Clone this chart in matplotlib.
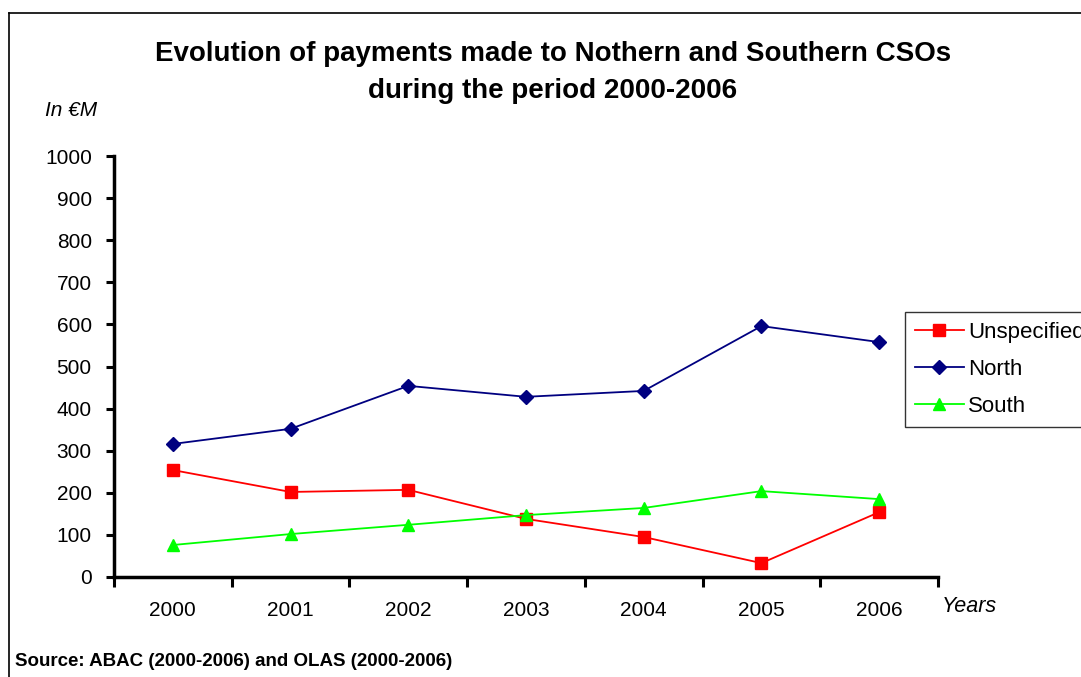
import matplotlib
matplotlib.use("Agg")
import matplotlib.pyplot as plt
from matplotlib.lines import Line2D

plt.rcParams['font.family'] = ['Liberation Sans', 'DejaVu Sans']

years = ['2000', '2001', '2002', '2003', '2004', '2005', '2006']
unspecified = [254, 202, 207, 138, 95, 33, 154]
north = [316, 352, 454, 428, 442, 596, 558]
south = [76, 102, 124, 147, 164, 204, 185]

W, H = 1081, 677
fig = plt.figure(figsize=(W / 100, H / 100), dpi=100)
ax = fig.add_axes([114 / W, 1 - 577 / H, (938 - 114) / W, (577 - 156) / H])

x = range(len(years))
ax.plot(x, unspecified, color='#ff0000', lw=1.3, marker='s', ms=8, label='Unspecified')
ax.plot(x, north, color='#000080', lw=1.3, marker='D', ms=7, label='North')
ax.plot(x, south, color='#00ff00', lw=1.3, marker='^', ms=9, label='South')

ax.set_xlim(-0.5, len(years) - 0.5)
ax.set_ylim(0, 1000)
ax.set_yticks(range(0, 1001, 100))
ax.tick_params(axis='y', labelsize=15, width=2.2, length=6, pad=10)

# category boundaries get the tick marks, centres get the labels
ax.set_xticks([i - 0.5 for i in range(len(years) + 1)])
ax.set_xticklabels([])
ax.set_xticks(list(x), minor=True)
ax.set_xticklabels(years, minor=True)
ax.tick_params(axis='x', which='major', width=2.2, length=7)
ax.tick_params(axis='x', which='minor', length=0, labelsize=15, pad=17)

for side in ['top', 'right']:
    ax.spines[side].set_visible(False)
for side in ['left', 'bottom']:
    ax.spines[side].set_linewidth(2.5)

fig.text(553 / W, 1 - 54 / H, 'Evolution of payments made to Nothern and Southern CSOs',
         ha='center', va='center', fontsize=20, fontweight='bold')
fig.text(553 / W, 1 - 91 / H, 'during the period 2000-2006',
         ha='center', va='center', fontsize=20, fontweight='bold')
fig.text(45 / W, 1 - 110 / H, 'In €M', ha='left', va='center', fontsize=15, style='italic')
fig.text(942 / W, 1 - 607 / H, 'Years', ha='left', va='center', fontsize=15.5, style='italic')
fig.text(15 / W, 1 - 661 / H, 'Source: ABAC (2000-2006) and OLAS (2000-2006)',
         ha='left', va='center', fontsize=13.5, fontweight='bold')

leg = fig.legend(loc='upper left', bbox_to_anchor=(905 / W, 1 - 312 / H), borderaxespad=0,
                 prop={'size': 16}, frameon=True, fancybox=False, edgecolor='black',
                 handlelength=2.2, handletextpad=0.2, labelspacing=0.72, borderpad=0.45)
leg.get_frame().set_linewidth(1.0)

# outer chart border
fig.add_artist(Line2D([9 / W, 9 / W], [0, 1 - 13 / H], color='black', lw=1.2,
                      transform=fig.transFigure))
fig.add_artist(Line2D([9 / W, 1], [1 - 13 / H, 1 - 13 / H], color='black', lw=1.2,
                      transform=fig.transFigure))

fig.savefig('out.png', dpi=100)
